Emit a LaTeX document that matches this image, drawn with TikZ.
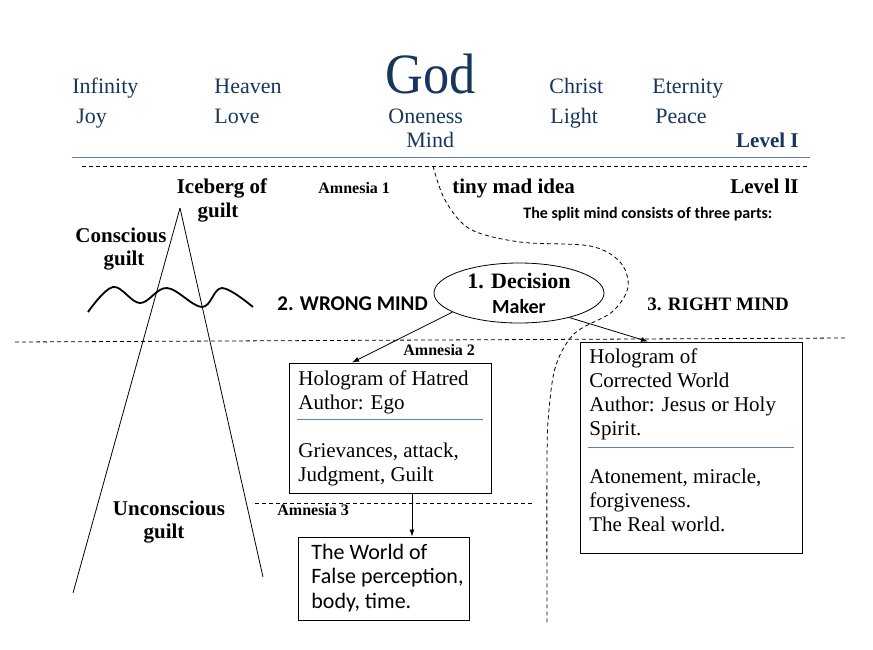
\documentclass[tikz,border=0pt]{standalone}
\usepackage{fontspec}
\setmainfont{Liberation Serif}
\setsansfont{Carlito}
\usepackage{graphicx}
\usepackage{xcolor}
\usepackage{tikz}
\usetikzlibrary{arrows.meta,shapes.geometric}
\definecolor{navy}{HTML}{17365D}
\definecolor{rulecol}{HTML}{5A7FB5}

\begin{document}
\begin{tikzpicture}[x=1pt,y=-1pt,line width=.8pt,
  heaven/.style={text=navy,font=\fontsize{22}{26}\selectfont,inner sep=0pt,anchor=base west},
  bold/.style={font=\fontsize{21}{24}\selectfont\bfseries,inner sep=0pt,anchor=base,align=center},
  amnesia/.style={font=\fontsize{16}{18}\selectfont\bfseries,inner sep=0pt,anchor=base west},
  sbold/.style={font=\fontsize{21}{24}\selectfont\sffamily\bfseries,inner sep=0pt,anchor=base west},
  holo/.style={draw,line width=1pt,inner sep=0pt},
  holotext/.style={font=\fontsize{21}{24}\selectfont,inner sep=0pt,anchor=base west,align=left},
  divider/.style={rulecol,line width=.8pt},
  level/.style={dash pattern=on 4pt off 3pt},
  arr/.style={-{Latex[length=7pt,width=5pt]}}]
\useasboundingbox (0,0) rectangle (873,649);

% Level I
\node[text=navy,font=\fontsize{57}{60}\selectfont,inner sep=0pt,anchor=base] (god) at (431,93) {\scalebox{0.92}[1]{God}};
\node[heaven] (infinity) at (72,93) {Infinity};
\node[heaven] (heaven) at (214,93) {Heaven};
\node[heaven] (christ) at (549,93) {Christ};
\node[heaven] (eternity) at (652,93) {Eternity};
\node[heaven] (joy) at (76,123) {Joy};
\node[heaven] (love) at (214,123) {Love};
\node[heaven] (oneness) at (388,123) {Oneness};
\node[heaven] (light) at (550,123) {Light};
\node[heaven] (peace) at (655,123) {Peace};
\node[heaven] (mind) at (406,147) {Mind};
\node[heaven,font=\fontsize{21}{24}\selectfont\bfseries,anchor=base east] (levelone) at (799,147) {Level I};
\draw[rulecol,line width=1pt] (72,157) -- (810,157);
\draw[level] (82,166) -- (808,166);

% Level II
\node[bold] (iceberg) at (222,193) {Iceberg of};
\node[bold] (iceguilt) at (218,217) {guilt};
\node[amnesia] (amnone) at (318,193) {Amnesia 1};
\node[bold,anchor=base west] (tiny) at (452,193) {tiny mad idea};
\node[bold,anchor=base east] (leveltwo) at (799,193) {Level lI};
\node[font=\fontsize{16}{18}\selectfont\sffamily\bfseries,inner sep=0pt,anchor=base west] (split) at (523,218) {The split mind consists of three parts:};
\node[bold] (conscious) at (121,242) {Conscious};
\node[bold] (conguilt) at (124,265) {guilt};
\node[bold] (unconscious) at (169,515) {Unconscious};
\node[bold] (unguilt) at (164,538) {guilt};

% iceberg and water
\coordinate (apex) at (180,208);
\draw (apex) -- (73,593);
\draw (apex) -- (263,577);
\draw[line width=1.8pt] plot[smooth,tension=.6] coordinates {(88,312) (113,287) (140,303) (167,288) (202,307) (222,288) (253,307)};
\draw[level] (15,342) -- (845,338);
\draw[level] (255,503) -- (532,503);

% split mind
\draw[level] plot[smooth,tension=.55] coordinates {(433,166) (445,200) (470,229) (520,242) (590,246) (620,262) (628,287) (612,312) (575,333) (556,365) (549,410) (547,460) (547,625)};
\node[ellipse,draw,minimum width=170,minimum height=60,inner sep=0pt,align=center,font=\fontsize{22}{25}\selectfont] (decision) at (519,293)
  {{\bfseries 1. Decision}\\{\fontsize{20}{25}\selectfont\sffamily\bfseries Maker}};
\node[sbold] (wrong) at (277,310) {2. WRONG MIND};
\node[bold,font=\fontsize{19}{22}\selectfont\bfseries,anchor=base west] (right) at (647,310) {3. RIGHT MIND};
\node[amnesia] (amntwo) at (403,355) {Amnesia 2};
\node[amnesia] (amnthree) at (277,515) {Amnesia 3};

% holograms
\node[holo,minimum width=202,minimum height=130] (hatred) at (390,428) {};
\node[holotext] (hatredtxt) at (298,481) {Hologram of Hatred\\Author: Ego\\[24pt]Grievances, attack,\\Judgment, Guilt};
\draw[divider] (297,419) -- (483,419);
\node[holo,minimum width=222,minimum height=211] (corrected) at (691,447.5) {};
\node[holotext] (correctedtxt) at (589,531) {Hologram of\\Corrected World\\Author: Jesus or Holy\\Spirit.\\[24pt]Atonement, miracle,\\forgiveness.\\The Real world.};
\draw[divider] (588,447) -- (794,447);
\node[holo,minimum width=171,minimum height=83] (world) at (383.5,578.5) {};
\node[holotext,font=\fontsize{22}{24.5}\selectfont\sffamily] (worldtxt) at (311,608) {The World of\\False perception,\\body, time.};

\draw[arr] (decision.196) -- ([xshift=-38pt]hatred.north);
\draw[arr] (decision.334) -- ([xshift=-43pt]corrected.north);
\draw[arr] ([xshift=22pt]hatred.south) -- ([xshift=22pt]hatred.south |- world.north);
\end{tikzpicture}
\end{document}
